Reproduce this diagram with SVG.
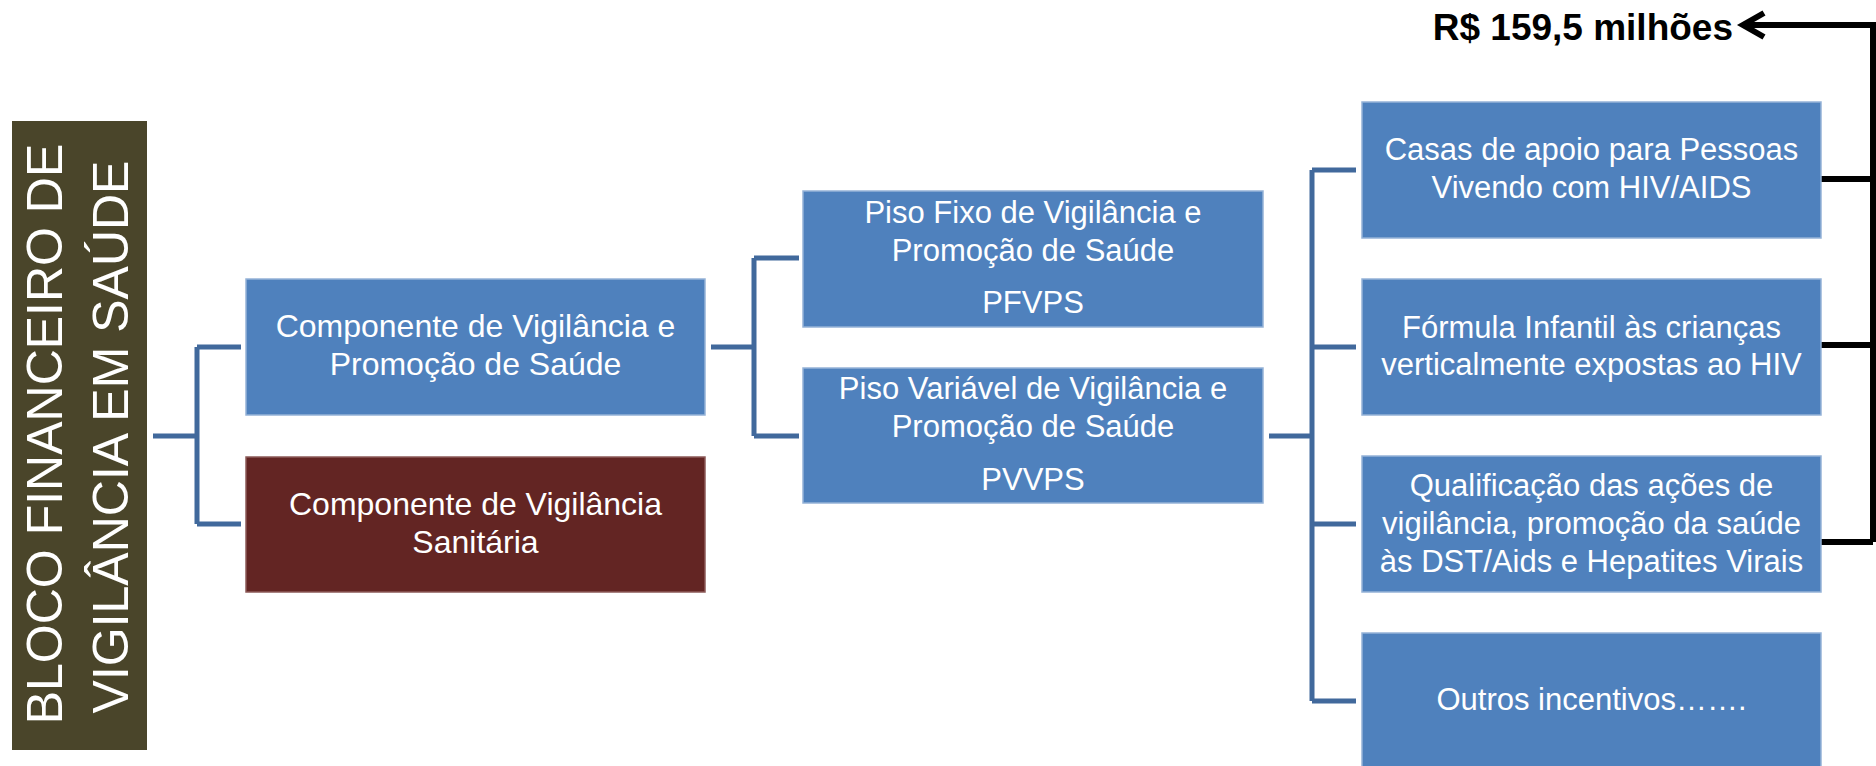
<svg xmlns="http://www.w3.org/2000/svg" width="1876" height="766" viewBox="0 0 1876 766">
<style>
  .box { fill: #4f81bd; stroke: #95b3d7; stroke-width: 1.5; }
  .red { fill: #632523; stroke: #8c5a58; stroke-width: 1.5; }
  .dark { fill: #4a452a; }
  .t { font-family: "Liberation Sans", Arial, sans-serif; font-size: 31px; fill: #ffffff; text-anchor: middle; }
  .tl { font-size: 32px; }
  .big { font-family: "Liberation Sans", Arial, sans-serif; font-size: 50px; fill: #ffffff; text-anchor: middle; }
  .lbl { font-family: "Liberation Sans", Arial, sans-serif; font-size: 37px; font-weight: bold; fill: #000000; text-anchor: end; }
  .bl { fill: none; stroke: #41699c; stroke-width: 5; }
  .blk { fill: none; stroke: #000000; stroke-width: 6; }
</style>
<rect width="1876" height="766" fill="#ffffff"/>

<g id="connectors">
  <path class="bl" d="M153,436 H197 M197,347 V524 M197,347 H241 M197,524 H241"/>
  <path class="bl" d="M711,347 H754 M754,258 V436 M754,258 H799 M754,436 H799"/>
  <path class="bl" d="M1269,436 H1312 M1312,170 V701 M1312,170 H1356 M1312,347 H1356 M1312,524 H1356 M1312,701 H1356"/>
  <path class="blk" d="M1816,179 H1873 M1816,345 H1873 M1816,542 H1873 M1873,542 V25 H1744"/>
  <polyline class="blk" points="1764,13 1743,25 1764,37" stroke-linejoin="miter"/>
</g>

<g id="bloco">
  <rect class="dark" x="12" y="121" width="135" height="629"/>
  <text class="big" transform="translate(62,434) rotate(-90)">BLOCO FINANCEIRO DE</text>
  <text class="big" transform="translate(128,437) rotate(-90)">VIGILÂNCIA EM SAÚDE</text>
</g>

<g id="comp-vps">
  <rect class="box" x="246" y="279" width="459" height="136"/>
  <text class="t tl" x="475.5" y="337">Componente de Vigilância e</text>
  <text class="t tl" x="475.5" y="375">Promoção de Saúde</text>
</g>

<g id="comp-vs">
  <rect class="red" x="246" y="457" width="459" height="135"/>
  <text class="t tl" x="475.5" y="515">Componente de Vigilância</text>
  <text class="t tl" x="475.5" y="553">Sanitária</text>
</g>

<g id="pfvps">
  <rect class="box" x="803" y="191" width="460" height="136"/>
  <text class="t" x="1033" y="223">Piso Fixo de Vigilância e</text>
  <text class="t" x="1033" y="261">Promoção de Saúde</text>
  <text class="t" x="1033" y="313">PFVPS</text>
</g>

<g id="pvvps">
  <rect class="box" x="803" y="368" width="460" height="135"/>
  <text class="t" x="1033" y="399">Piso Variável de Vigilância e</text>
  <text class="t" x="1033" y="437">Promoção de Saúde</text>
  <text class="t" x="1033" y="490">PVVPS</text>
</g>

<g id="casas">
  <rect class="box" x="1362" y="102" width="459" height="136"/>
  <text class="t" x="1591.5" y="160">Casas de apoio para Pessoas</text>
  <text class="t" x="1591.5" y="198">Vivendo com HIV/AIDS</text>
</g>

<g id="formula">
  <rect class="box" x="1362" y="279" width="459" height="136"/>
  <text class="t" x="1591.5" y="338">Fórmula Infantil às crianças</text>
  <text class="t" x="1591.5" y="375">verticalmente expostas ao HIV</text>
</g>

<g id="qualificacao">
  <rect class="box" x="1362" y="456" width="459" height="136"/>
  <text class="t" x="1591.5" y="496">Qualificação das ações de</text>
  <text class="t" x="1591.5" y="534">vigilância, promoção da saúde</text>
  <text class="t" x="1591.5" y="572">às DST/Aids e Hepatites Virais</text>
</g>

<g id="outros">
  <rect class="box" x="1362" y="633" width="459" height="136"/>
  <text class="t" x="1591.5" y="710">Outros incentivos…….</text>
</g>

<g id="valor">
  <text class="lbl" x="1733" y="40">R$ 159,5 milhões</text>
</g>
</svg>
